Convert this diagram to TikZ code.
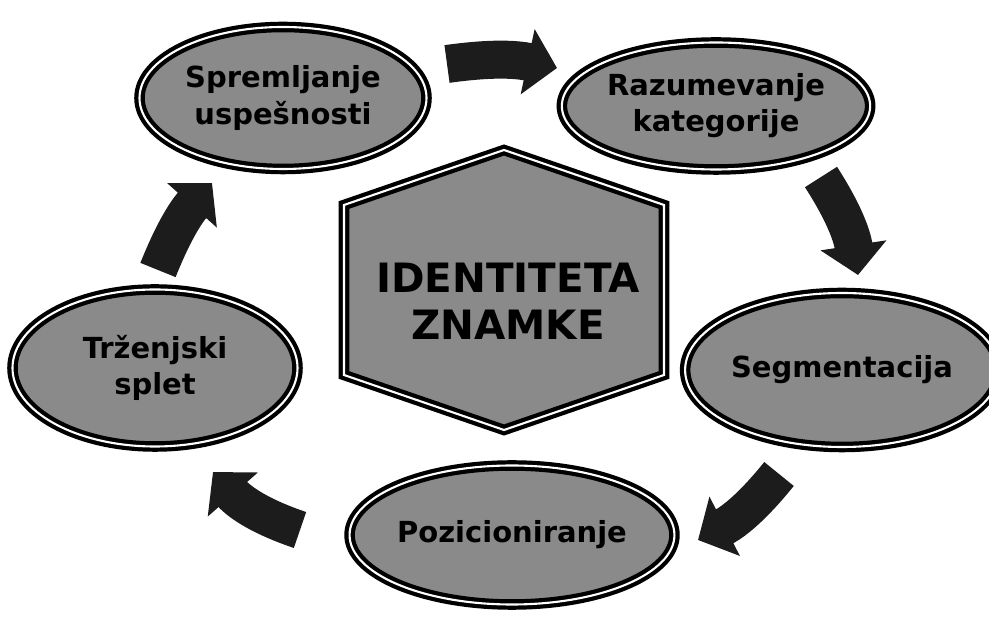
\documentclass[tikz,border=0pt]{standalone}
\usepackage{fontspec}
\setmainfont{DejaVu Sans}
\usepackage{tikz}
\usetikzlibrary{shapes.geometric,arrows.meta}
\definecolor{speckle}{HTML}{8A8A8A}
\definecolor{ink}{HTML}{1C1C1C}

\begin{document}
\begin{tikzpicture}[
    rim/.style={draw=black, line width=2.4pt, double=white, double distance=1.2pt},
    stage/.style={ellipse, rim, fill=speckle, align=center, inner sep=0pt,
                  font=\bfseries\fontsize{16.5}{20.5}\selectfont},
    turn/.style={ink, line width=0.76cm, -{Triangle[width=1.3cm,length=0.6cm]}}
]
    \useasboundingbox (0,0) rectangle (19.78,12.36);

    % centre
    \coordinate (hexmid) at (10.08,6.56);
    \draw[rim, fill=speckle, line join=miter, shift={(hexmid)}]
        (-3.2,1.7) -- (0,2.8) -- (3.2,1.7) -- (3.2,-1.7) -- (0,-2.8) -- (-3.2,-1.7) -- cycle;
    \node[align=center, font=\bfseries\fontsize{23}{27}\selectfont] (ident)
        at ([shift={(0.08,-0.22)}]hexmid) {IDENTITETA\\ZNAMKE};

    % stages
    \node[stage, minimum width=5.74cm, minimum height=2.84cm] (spr) at (5.66,10.40)
        {Spremljanje\\uspešnosti};
    \node[stage, minimum width=5.70cm, minimum height=2.54cm] (raz) at (14.32,10.24)
        {Razumevanje\\kategorije};
    \node[stage, minimum width=5.62cm, minimum height=3.08cm] (seg) at (16.84,4.96)
        {Segmentacija};
    \node[stage, minimum width=5.88cm, minimum height=2.78cm] (poz) at (10.24,1.66)
        {Pozicioniranje};
    \node[stage, minimum width=5.70cm, minimum height=3.14cm] (trz) at (3.10,5.00)
        {Trženjski\\splet};

    % arrows between the stages
    \coordinate (a1s) at (8.94,11.08);  \coordinate (a1e) at (11.14,11.00);
    \coordinate (a2s) at (16.42,8.82);  \coordinate (a2e) at (17.16,6.86);
    \coordinate (a3s) at (15.58,2.88);  \coordinate (a3e) at (13.96,1.56);
    \coordinate (a4s) at (6.00,1.76);   \coordinate (a4e) at (4.26,2.92);
    \coordinate (a5s) at (3.16,6.96);   \coordinate (a5e) at (4.24,8.70);
    \draw[turn] (a1s) to[bend left=10] (a1e);
    \draw[turn] (a2s) to[bend left=12] (a2e);
    \draw[turn] (a3s) to[bend left=12] (a3e);
    \draw[turn] (a4s) to[bend left=15] (a4e);
    \draw[turn] (a5s) to[bend left=10] (a5e);
\end{tikzpicture}
\end{document}
